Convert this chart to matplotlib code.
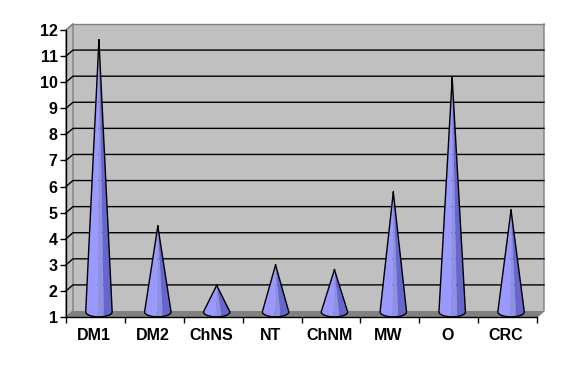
import numpy as np
import matplotlib
matplotlib.use("Agg")
import matplotlib.pyplot as plt
from matplotlib.transforms import Affine2D

categories = ["DM1", "DM2", "ChNS", "NT", "ChNM", "MW", "O", "CRC"]
values = [11.5, 4.37, 2.1, 2.88, 2.7, 5.67, 10.05, 4.98]
yticks = list(range(1, 13))

W, H = 582, 368
DX, DY = 7, 6          # depth of the fake 3d box, pixels
HALF_W = 0.225         # cone base half width, in categories
HALF_H = 0.19          # cone base half height, in y units
BASE_UP = 0.08         # lift of the base centre above the axis value

plt.rcParams["font.family"] = ["Liberation Sans", "DejaVu Sans"]

fig = plt.figure(figsize=(W / 100, H / 100), dpi=100, facecolor="white")
ax = fig.add_axes([66 / W, 1 - 317 / H, (537 - 66) / W, (317 - 30) / H])
ax.set_xlim(0, len(categories))
ax.set_ylim(yticks[0], yticks[-1])
ax.patch.set_visible(False)

back = ax.transData + Affine2D().translate(DX, DY)
mid = ax.transData + Affine2D().translate(DX / 2, DY / 2)
n = len(categories)
y0, y1 = yticks[0], yticks[-1]
dx_data = DX / ((537 - 66) / n)
dy_data = DY / ((317 - 30) / (y1 - y0))

# walls and floor
ax.fill([0, n, n, 0], [y0, y0, y1, y1], color="#c0c0c0", lw=0, transform=back, zorder=1,
        clip_on=False)
ax.fill([0, dx_data, dx_data, 0], [y0, y0 + dy_data, y1 + dy_data, y1],
        facecolor="#c0c0c0", edgecolor="#808080", lw=1, zorder=1, clip_on=False)
ax.fill([0, n, n + dx_data, dx_data], [y0, y0, y0 + dy_data, y0 + dy_data],
        color="#808080", lw=0, zorder=2, clip_on=False)
ax.plot([n, n + dx_data, n + dx_data], [y0, y0 + dy_data, y1 + dy_data],
        color="#808080", lw=1, zorder=2, clip_on=False)
ax.plot([0, n], [y1, y1], color="#808080", lw=1, transform=back, zorder=2, clip_on=False)

# gridlines on the back wall, slanted on the side wall
for v in yticks[1:-1]:
    ax.plot([0, dx_data, n + dx_data], [v, v + dy_data, v + dy_data], color="black", lw=1,
            zorder=3, clip_on=False)
ax.plot([0, dx_data], [y1, y1 + dy_data], color="#808080", lw=1, zorder=3, clip_on=False)

# cones, three shaded bands then an outline
bands = [(np.pi, 1.47 * np.pi, "#9999ff"), (1.47 * np.pi, 1.62 * np.pi, "#8f8fe6"),
         (1.62 * np.pi, 2 * np.pi, "#6666cc")]
for i, v in enumerate(values):
    cx = i + 0.5
    base = y0 + BASE_UP
    for a0, a1, col in bands:
        t = np.linspace(a0, a1, 30)
        xs = np.r_[cx, cx + HALF_W * np.cos(t)]
        ys = np.r_[v, base + HALF_H * np.sin(t)]
        ax.fill(xs, ys, color=col, lw=0, transform=mid, zorder=4, clip_on=False)
    t = np.linspace(np.pi, 2 * np.pi, 40)
    xs = np.r_[cx, cx + HALF_W * np.cos(t), cx]
    ys = np.r_[v, base + HALF_H * np.sin(t), v]
    ax.plot(xs, ys, color="black", lw=1, transform=mid, zorder=5, clip_on=False)

# axes and ticks
for s in ("top", "right"):
    ax.spines[s].set_visible(False)
for s in ("left", "bottom"):
    ax.spines[s].set_linewidth(1)
    ax.spines[s].set_zorder(6)
ax.set_yticks(yticks)
ax.set_xticks(np.arange(n + 1))
ax.set_xticklabels([])
ax.set_xticks(np.arange(n) + 0.5, minor=True)
ax.set_xticklabels(categories, minor=True, fontweight="bold")
ax.set_yticklabels(yticks, fontweight="bold")
ax.tick_params(axis="x", which="major", direction="out", length=4, width=1)
ax.tick_params(axis="x", which="minor", length=0, pad=8, labelsize=11.5)
ax.tick_params(axis="y", direction="out", length=4, width=1, pad=2, labelsize=11.5)
nudge = Affine2D().translate(-1.5, 0)
for lab in ax.get_xticklabels(minor=True):
    lab.set_transform(lab.get_transform() + nudge)

fig.savefig("out.png", dpi=100)
